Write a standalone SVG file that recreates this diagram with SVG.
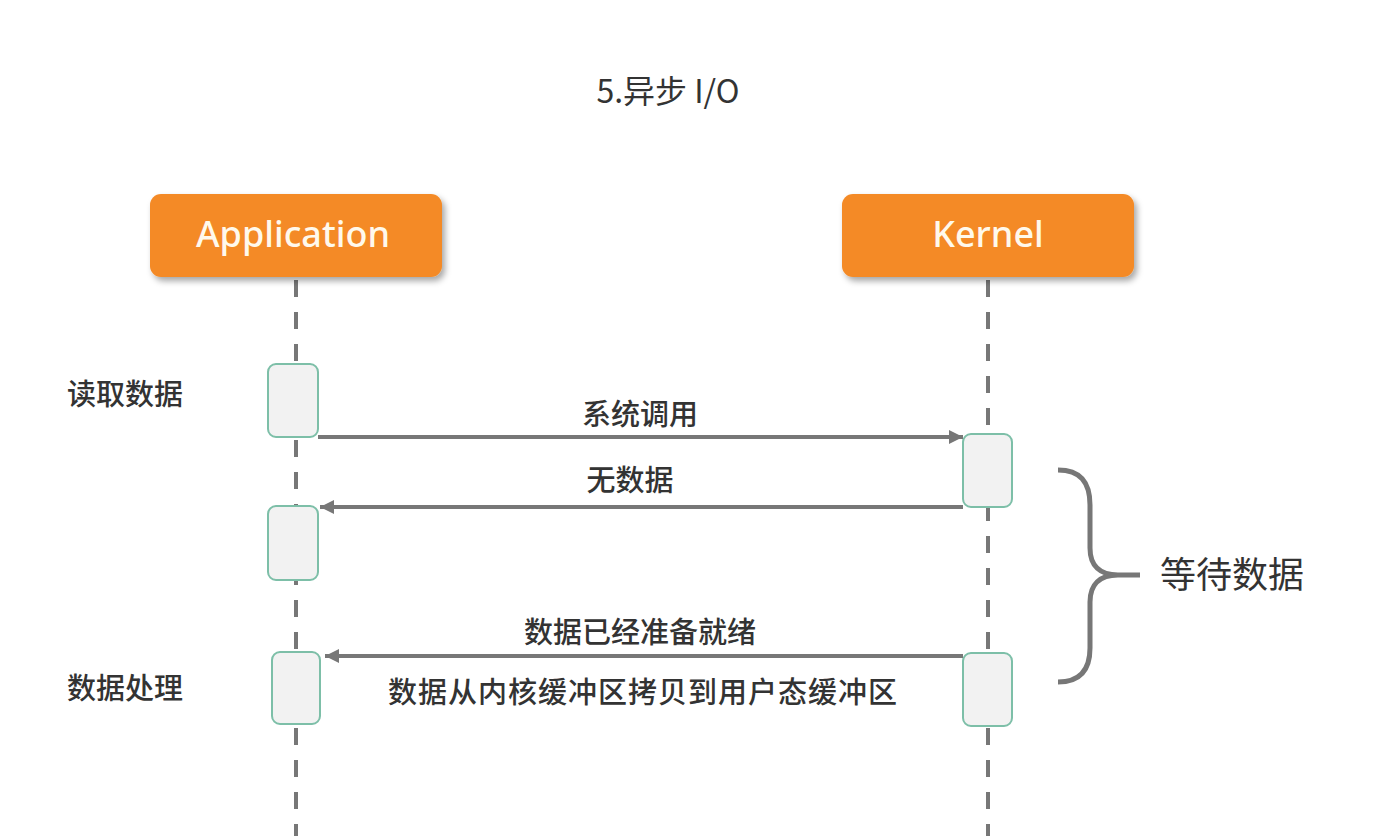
<svg xmlns="http://www.w3.org/2000/svg" width="1392" height="836" viewBox="0 0 1392 836">
<defs>
<style>
.t{font-family:"Noto Sans CJK SC","Noto Sans",sans-serif;fill:#333;font-weight:500;}
.r{font-weight:400;}
.head{fill:#F48A26;}
.hl{font-family:"Noto Sans","Open Sans",sans-serif;font-weight:500;font-size:36px;fill:#FFF9EC;text-anchor:middle;}
.life{stroke:#777;stroke-width:4;stroke-dasharray:17 15;fill:none;}
.act{fill:#F2F2F2;stroke:#7DBFA8;stroke-width:2;}
.msg{stroke:#777;stroke-width:4;fill:none;}
</style>
<filter id="sh" x="-10%" y="-20%" width="130%" height="160%">
<feDropShadow dx="3" dy="4" stdDeviation="3" flood-color="#000" flood-opacity="0.35"/>
</filter>
<marker id="ah" viewBox="0 0 10 10" refX="10" refY="5" markerUnits="userSpaceOnUse" markerWidth="16" markerHeight="14" orient="auto">
<path d="M0,0 L10,5 L0,10 z" fill="#777"/>
</marker>
</defs>
<rect width="1392" height="836" fill="#fff"/>
<text class="t r" x="668" y="103" font-size="32" text-anchor="middle">5.异步 I/O</text>

<g id="lifelines">
<line class="life" x1="296" y1="280" x2="296" y2="836"/>
<line class="life" x1="988" y1="280" x2="988" y2="836"/>
</g>

<g id="application">
<rect class="head" x="150" y="194" width="292" height="83" rx="11" filter="url(#sh)"/>
<text class="hl" x="293" y="247">Application</text>
</g>
<g id="kernel">
<rect class="head" x="842" y="194" width="292" height="83" rx="11" filter="url(#sh)"/>
<text class="hl" x="988" y="247">Kernel</text>
</g>

<g id="activations">
<rect class="act" x="268" y="364" width="50" height="73" rx="8"/>
<rect class="act" x="268" y="506" width="50" height="74" rx="8"/>
<rect class="act" x="272" y="652" width="48" height="72" rx="8"/>
<rect class="act" x="963" y="434" width="49" height="73" rx="8"/>
<rect class="act" x="963" y="653" width="49" height="73" rx="8"/>
</g>

<g id="connectors">
<line class="msg" x1="318" y1="437" x2="963" y2="437" marker-end="url(#ah)"/>
<line class="msg" x1="963" y1="507" x2="320" y2="507" marker-end="url(#ah)"/>
<line class="msg" x1="963" y1="656" x2="325" y2="656" marker-end="url(#ah)"/>
<path d="M1058,470 C1080,470 1090,482 1090,505 L1090,548 C1090,566 1100,575 1118,575 L1140,575 M1118,575 C1100,575 1090,584 1090,602 L1090,648 C1090,670 1080,682 1058,682" stroke="#777" stroke-width="5" fill="none"/>
</g>

<g id="labels">
<text class="t" x="67" y="405" font-size="29">读取数据</text>
<text class="t" x="67" y="699" font-size="29">数据处理</text>
<text class="t" x="640" y="425" font-size="29" text-anchor="middle">系统调用</text>
<text class="t" x="630" y="491" font-size="29" text-anchor="middle">无数据</text>
<text class="t" x="640" y="643" font-size="29" text-anchor="middle">数据已经准备就绪</text>
<text class="t" x="388" y="703" font-size="29" letter-spacing="1">数据从内核缓冲区拷贝到用户态缓冲区</text>
<text class="t r" x="1160" y="588" font-size="36">等待数据</text>
</g>
</svg>
